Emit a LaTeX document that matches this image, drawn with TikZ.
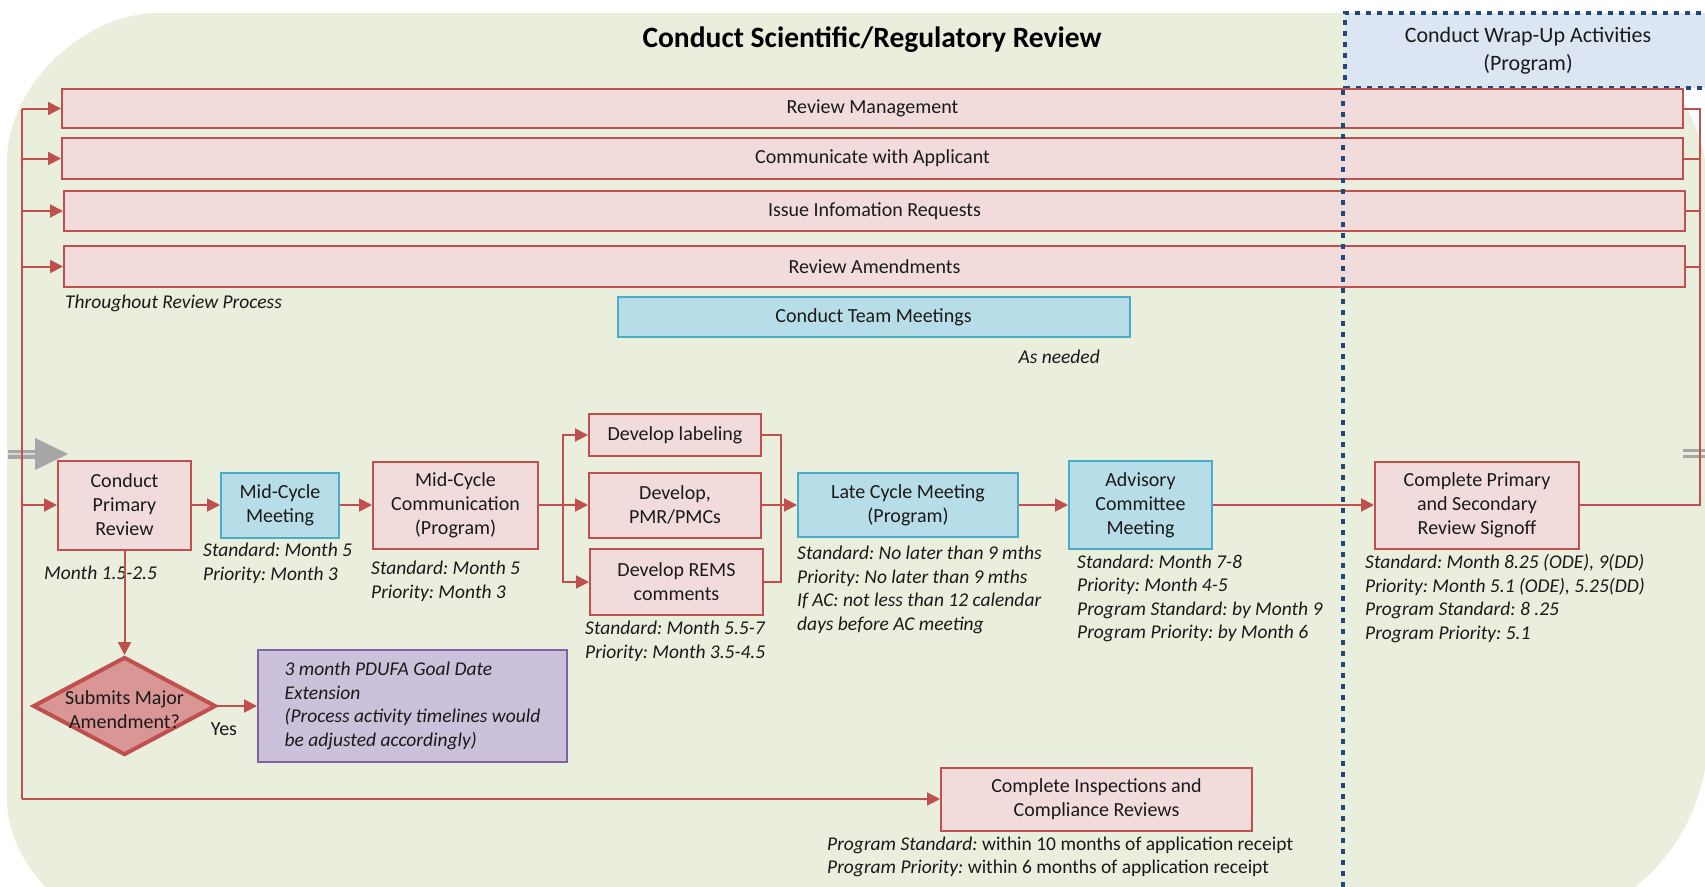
\documentclass[tikz,border=0pt]{standalone}
\usepackage{fontspec}
\setmainfont{Carlito}
\usetikzlibrary{arrows.meta,shapes.geometric}
\definecolor{bgc}{HTML}{EAEEDD}
\definecolor{redln}{HTML}{C0504D}
\definecolor{redfill}{HTML}{F2DCDB}
\definecolor{bluefill}{HTML}{B7DEE8}
\definecolor{blueln}{HTML}{4BACC6}
\definecolor{purpfill}{HTML}{CCC1DA}
\definecolor{purpln}{HTML}{8064A2}
\definecolor{dmdfill}{HTML}{D99694}
\definecolor{wrapfill}{HTML}{DCE6F2}
\definecolor{wrapln}{HTML}{1F497D}
\definecolor{ink}{HTML}{1A1A1A}
\definecolor{stubc}{HTML}{A6A6A6}
\frenchspacing
\begin{document}
\begin{tikzpicture}[x=1pt,y=-1pt,
  every node/.style={text=ink, inner sep=0pt},
  body/.style={font=\fontsize{20}{24}\selectfont},
  note/.style={font=\fontsize{19.5}{23.5}\selectfont\itshape, anchor=west, align=left},
  redbox/.style={body, draw=redln, fill=redfill, line width=2pt, align=center},
  bluebox/.style={body, draw=blueln, fill=bluefill, line width=2pt, align=center},
  conn/.style={draw=redln, line width=2pt},
  arr/.style={conn, -{Triangle[length=13pt,width=13pt]}},
  wrapdot/.style={draw=wrapln, line width=4.5pt, dash pattern=on 5pt off 6pt},
  dmd/.style={shape=diamond, draw=redln, fill=dmdfill, line width=4pt, minimum width=183pt, minimum height=98pt},
  stubline/.style={draw=stubc, line width=3pt}
]
\useasboundingbox (0,0) rectangle (1705,886);

% panel background
\fill[bgc] (7,163) .. controls (7,80.2) and (89.2,13) .. (157,13)
  -- (1528,13) .. controls (1627.4,13) and (1708,93.6) .. (1708,193)
  -- (1708,735) .. controls (1708,842.7) and (1620.7,930) .. (1513,930)
  -- (137,930) .. controls (65.2,930) and (7,858.2) .. (7,800) -- cycle;

% incoming off-page arrow (left) and outgoing stub (right)
\fill[stubc] (8,449.5) rectangle (38,458.5);
\draw[stubc!45, line width=1.5pt] (8,454) -- (36,454);
\fill[stubc] (35,438) -- (68,454) -- (35,470) -- cycle;
\draw[stubline] (1683,450) -- (1705,450);
\draw[stubline] (1683,456.5) -- (1705,456.5);

% title and wrap-up header
\node[font=\fontsize{29.5}{34}\selectfont\bfseries, text=black] (title) at (872,40) {Conduct Scientific/Regulatory Review};
\node[wrapdot, fill=wrapfill, minimum width=366pt, minimum height=75pt, align=center,
      font=\fontsize{22}{28}\selectfont] (wu) at (1528,50.5) {Conduct Wrap-Up Activities\\(Program)};

% ongoing activities
\node[redbox, minimum width=1621pt, minimum height=39pt] (rm) at (872.5,108.5) {Review Management};
\node[redbox, minimum width=1621pt, minimum height=41pt] (ca) at (872.5,158.5) {Communicate with Applicant};
\node[redbox, minimum width=1621pt, minimum height=40pt] (ir) at (874.5,211) {Issue Infomation Requests};
\node[redbox, minimum width=1621pt, minimum height=41pt] (ra) at (874.5,266.5) {Review Amendments};
\node[note] (thr) at (65,303) {Throughout Review Process};
\node[bluebox, minimum width=512pt, minimum height=40pt] (tm) at (873.5,317) {Conduct Team Meetings};
\node[note, anchor=east] (asn) at (1100,357) {As needed};

% main process row
\node[redbox, minimum width=133pt, minimum height=89pt] (cpr) at (124.5,505) {Conduct\\Primary\\Review};
\node[bluebox, minimum width=118pt, minimum height=65pt] (mcm) at (280,505) {Mid-Cycle\\Meeting};
\node[redbox, minimum width=165pt, minimum height=87pt] (mcc) at (455.5,505) {Mid-Cycle\\Communication\\(Program)};
\node[redbox, minimum width=172pt, minimum height=42pt] (dl) at (675,435) {Develop labeling};
\node[redbox, minimum width=172pt, minimum height=65pt] (dp) at (675,505) {Develop,\\PMR/PMCs};
\node[redbox, minimum width=173pt, minimum height=66pt] (dr) at (676.5,582) {Develop REMS\\comments};
\node[bluebox, minimum width=220pt, minimum height=64pt] (lc) at (908,505) {Late Cycle Meeting\\(Program)};
\node[bluebox, minimum width=143pt, minimum height=88pt] (ac) at (1140.5,505) {Advisory\\Committee\\Meeting};
\node[redbox, minimum width=204pt, minimum height=87pt] (cs) at (1477,505) {Complete Primary\\and Secondary\\Review Signoff};
\node[redbox, minimum width=311pt, minimum height=63pt] (ci) at (1096.5,799) {Complete Inspections and\\Compliance Reviews};

% major amendment branch
\node[dmd] (dia) at (124.5,706) {};
\node[body, align=center] (dtx) at (124.5,710) {Submits Major\\Amendment?};
\node[draw=purpln, fill=purpfill, line width=2pt, minimum width=309pt, minimum height=112pt,
      align=left, font=\fontsize{19.5}{23.5}\selectfont\itshape] (pd) at (412.5,706)
      {3 month PDUFA Goal Date\\Extension\\(Process activity timelines would\\be adjusted accordingly)};
\node[body] (yes) at (224,729) {Yes};

% timing notes
\node[note] (n1) at (44,573) {Month 1.5-2.5};
\node[note] (n2) at (203,563.5) {Standard: Month 5\\Priority: Month 3};
\node[note] (n3) at (371,581.5) {Standard: Month 5\\Priority: Month 3};
\node[note] (n4) at (585,641.5) {Standard: Month 5.5-7\\Priority: Month 3.5-4.5};
\node[note] (n5) at (797,590) {Standard: No later than 9 mths\\Priority: No later than 9 mths\\If AC: not less than 12 calendar\\days before AC meeting};
\node[note] (n6) at (1077,598.5) {Standard: Month 7-8\\Priority: Month 4-5\\Program Standard: by Month 9\\Program Priority: by Month 6};
\node[note] (n7) at (1365,598.5) {Standard: Month 8.25 (ODE), 9(DD)\\Priority: Month 5.1 (ODE), 5.25(DD)\\Program Standard: 8 .25\\Program Priority: 5.1};
\node[note, font=\fontsize{19.5}{23.5}\selectfont] (n8) at (827,857) {\textit{Program Standard:} within 10 months of application receipt\\\textit{Program Priority:} within 6 months of application receipt};

% connector junctions
\coordinate (lt) at (22,108.5);
\coordinate (lb) at (22,799);
\coordinate (rt) at (1700,108.5);
\coordinate (rb) at (1700,505);
\coordinate (jl) at (563,505);
\coordinate (jr) at (781,505);

% left feed line
\draw[conn] (lt) -- (lb);
\draw[arr] (lt) -- (rm.west);
\draw[arr] (lt |- ca.west) -- (ca.west);
\draw[arr] (lt |- ir.west) -- (ir.west);
\draw[arr] (lt |- ra.west) -- (ra.west);
\draw[arr] (lt |- cpr.west) -- (cpr.west);
\draw[arr] (lb) -- (ci.west);

% process flow
\draw[arr] (cpr.east) -- (mcm.west);
\draw[arr] (mcm.east) -- (mcc.west);
\draw[conn] (mcc.east) -- (jl);
\draw[arr] (jl) |- (dl.west);
\draw[arr] (jl) -- (dp.west);
\draw[arr] (jl) |- (dr.west);
\draw[conn] (dl.east) -| (jr) |- (dr.east);
\draw[arr] (dp.east) -- (lc.west);
\draw[arr] (lc.east) -- (ac.west);
\draw[arr] (ac.east) -- (cs.west);
\draw[arr] (cpr.south) -- (dia.north);
\draw[arr] (dia.east) -- (pd.west);

% right collector line
\draw[conn] (cs.east) -- (rb) -- (rt) -- (rm.east);
\draw[conn] (ca.east) -- (rt |- ca.east);
\draw[conn] (ir.east) -- (rt |- ir.east);
\draw[conn] (ra.east) -- (rt |- ra.east);

% wrap-up boundary
\coordinate (wb) at (1345,890);
\draw[wrapdot] (wu.south west) -- (wu.south west |- wb);
\end{tikzpicture}
\end{document}
